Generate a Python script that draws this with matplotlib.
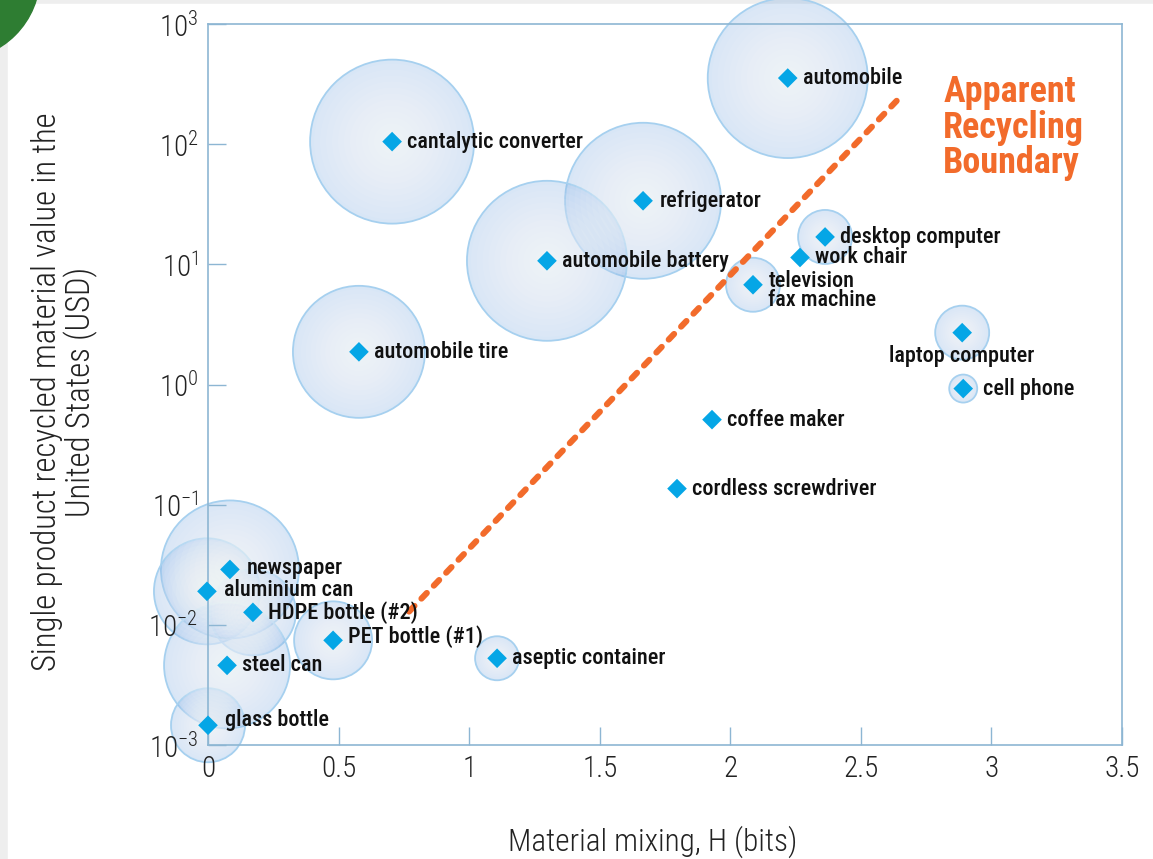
import numpy as np
import matplotlib.pyplot as plt
from matplotlib import font_manager as fm
from matplotlib.patches import Rectangle, Circle
from matplotlib.transforms import IdentityTransform

# pick a condensed sans that is installed
installed = {f.name for f in fm.fontManager.ttflist}
narrow = next((n for n in ['Roboto Condensed', 'Archivo Narrow', 'Liberation Sans Narrow',
                           'PT Sans Narrow', 'Fira Sans Condensed', 'IBM Plex Sans Condensed',
                           'Barlow Semi Condensed'] if n in installed), 'DejaVu Sans')
plt.rcParams['font.family'] = [narrow, 'DejaVu Sans']
plt.rcParams['axes.unicode_minus'] = False

# --- data ---
products = ['automobile', 'cantalytic converter', 'refrigerator', 'automobile battery',
            'automobile tire', 'desktop computer', 'work chair', 'television\nfax machine',
            'laptop computer', 'cell phone', 'coffee maker', 'cordless screwdriver',
            'newspaper', 'aluminium can', 'HDPE bottle (#2)', 'PET bottle (#1)',
            'steel can', 'glass bottle', 'aseptic container']
mixing_bits = [2.22, 0.705, 1.666, 1.298, 0.578, 2.363, 2.267, 2.087, 2.888, 2.892,
               1.93, 1.796, 0.084, -0.004, 0.172, 0.479, 0.073, 0.0, 1.107]
value_usd = [355, 105, 33.8, 10.7, 1.87, 16.9, 11.4, 6.76, 2.7, 0.925,
             0.51, 0.136, 0.0289, 0.019, 0.0127, 0.00743, 0.0046, 0.00146, 0.00527]
# bubble radius as drawn in the picture (px), 0 = no bubble
bubble_px = [80, 82, 78, 80, 66, 27, 0, 27, 27, 14, 0, 0, 69, 53, 43, 39, 63, 37, 22]

boundary_h = [0.77, 2.64]
boundary_usd = [0.0129, 233]

x_ticks = [0, 0.5, 1, 1.5, 2, 2.5, 3, 3.5]
x_ticklabels = ['0', '0.5', '1', '1.5', '2', '2.5', '3', '3.5']
y_exponents = [-3, -2, -1, 0, 1, 2, 3]

DPI = 100
W, H = 1153, 859
fig = plt.figure(figsize=(W / DPI, H / DPI), dpi=DPI)

# page border + corner logo
fig.patches.append(Rectangle((0, 0), 1, 1, transform=fig.transFigure,
                             color='#eeeeee', zorder=-10))
fig.patches.append(Rectangle((8 / W, 0), 1, 1 - 4 / H, transform=fig.transFigure,
                             color='white', zorder=-9))
fig.patches.append(Circle((-45, H + 25), 85, transform=IdentityTransform(),
                          color='#2e7d32', zorder=-8))

ax = fig.add_axes([208 / W, 1 - 745 / H, 914 / W, 721 / H])
ax.set_yscale('log')
ax.set_xlim(0, 3.5)
ax.set_ylim(1e-3, 1e3)
ax.set_facecolor('none')
ax.set_axisbelow(False)

x = np.array(mixing_bits)
y = np.array(value_usd)
r = np.array(bubble_px, dtype=float)
has_bubble = r > 0
s = (2 * r * 72 / DPI) ** 2

# bubbles: pale blue rim fading to a white centre
ax.scatter(x[has_bubble], y[has_bubble], s=s[has_bubble],
           facecolor=(0.50, 0.68, 0.89, 0.30), edgecolor='#a6d0ef',
           linewidth=1.3, clip_on=False, zorder=2)
for frac in np.linspace(0.95, 0.15, 12):
    ax.scatter(x[has_bubble], y[has_bubble], s=s[has_bubble] * frac ** 2,
               facecolor=(1, 1, 1, 0.08), edgecolor='none',
               clip_on=False, zorder=2)

# recycling boundary
ax.plot(boundary_h, boundary_usd, color='#f26b2b', linewidth=4.4,
        linestyle=(0, (1.27, 1.66)), dash_capstyle='round', zorder=3)
ax.text(2.815, 380, 'Apparent\nRecycling\nBoundary', color='#f26b2b',
        fontsize=26, fontweight='bold', va='top', ha='left', linespacing=0.98,
        zorder=5)

# diamonds
ax.scatter(x, y, marker='D', s=100, color='#05a6e6', edgecolor='none',
           clip_on=False, zorder=4)

# labels
special = {
    'laptop computer': ((0, -17), 'center'),
    'television\nfax machine': ((11, -4), 'left'),
    'cell phone': ((14, 0), 'left'),
    'PET bottle (#1)': ((11, 3), 'left'),
    'glass bottle': ((12, 4), 'left'),
    'aluminium can': ((12, 1), 'left'),
    'newspaper': ((12, 1), 'left'),
    'refrigerator': ((12, 0), 'left'),
}
for name, xi, yi in zip(products, x, y):
    off, ha = special.get(name, ((11, 0), 'left'))
    ax.annotate(name, (xi, yi), xytext=off, textcoords='offset points',
                ha=ha, va='center', fontsize=16, fontweight='medium',
                color='#111111', linespacing=0.8, zorder=5,
                annotation_clip=False)

# axes styling
spine_col = '#8db6d3'
for sp in ax.spines.values():
    sp.set_color(spine_col)
    sp.set_linewidth(1.2)
ax.set_xticks(x_ticks, labels=x_ticklabels)
ax.set_yticks([10.0 ** e for e in y_exponents],
              labels=[r'$\mathregular{10^{%d}}$' % e for e in y_exponents])
ax.yaxis.set_minor_locator(plt.NullLocator())
ax.tick_params(direction='in', length=13, width=1, color=spine_col,
               labelsize=21, labelcolor='#222222', pad=7)
for lab in ax.get_xticklabels() + ax.get_yticklabels():
    lab.set_fontweight('light')

ax.set_xlabel('Material mixing, H (bits)', fontsize=22.5, fontweight='light',
              color='#222222')
ax.xaxis.set_label_coords(0.487, -0.112)
ax.set_ylabel('Single product recycled material value in the\nUnited States (USD)',
              fontsize=23.5, fontweight='light', color='#222222', linespacing=1.05)
ax.yaxis.set_label_coords(-0.12, 0.49)

fig.savefig('out.png', dpi=DPI)
